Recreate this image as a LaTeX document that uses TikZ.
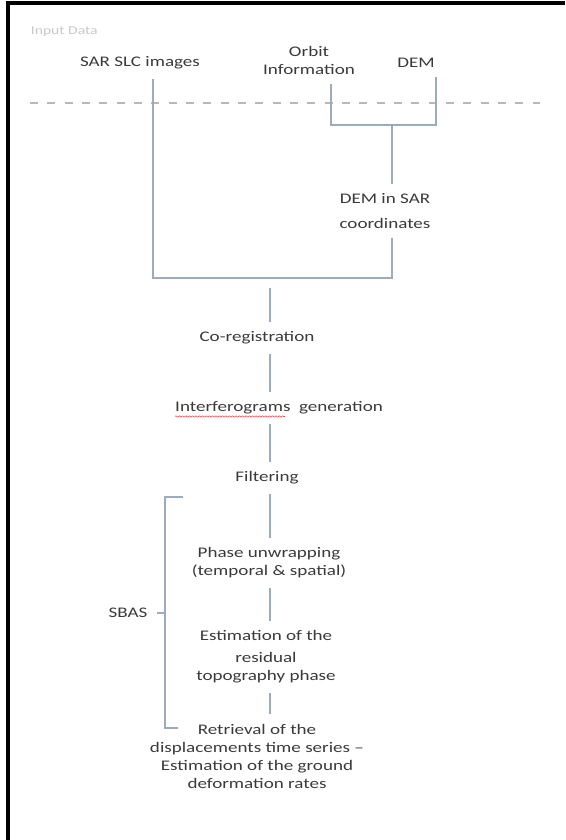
\documentclass[tikz,border=0pt]{standalone}
\usepackage{fontspec}
\setmainfont{Carlito}[FakeStretch=1.3]
\usetikzlibrary{decorations.pathmorphing}
\definecolor{txtgrey}{HTML}{3A3A3A}
\definecolor{inputgrey}{HTML}{C8C8C8}
\definecolor{linkblue}{HTML}{9DABBE}
\definecolor{dashgrey}{HTML}{B8B8B8}
\begin{document}
\begin{tikzpicture}[x=0.75pt,y=-0.75pt,
        lbl/.style={text=txtgrey,font=\fontsize{11}{13.5}\selectfont,align=center,inner xsep=2pt,inner ysep=7pt},
        conn/.style={linkblue,line width=0.9pt}]
        \useasboundingbox (0,0) rectangle (565,840);

        % frame
        \fill[black] (6,1) rectangle (10,840);
        \fill[black] (6,1) rectangle (565,5);

        % input data
        \node[lbl,text=inputgrey,font=\fontsize{9}{11}\selectfont,anchor=west] (input) at (28,32) {Input Data};
        \node[lbl] (sar) at (140,63) {SAR SLC images};
        \node[lbl] (orbit) at (309,60) {Orbit\\Information};
        \node[lbl] (dem) at (416,63) {DEM};
        \draw[dashgrey,line width=1pt,dash pattern=on 6pt off 7pt] (30,103) -- (540,103);

        \coordinate (oj) at (331,125);
        \coordinate (dj) at (436,125);
        \coordinate (mj) at (392,125);
        \coordinate (lj) at (153,278);
        \coordinate (rj) at (392,278);
        \node[lbl] (demsar) at (385,211) {DEM in SAR\\[5pt]coordinates};

        \draw[conn] (orbit.south -| oj) -- (oj) -- (dj) -- (dem.south -| dj);
        \draw[conn] (mj) -- (demsar.north -| mj);
        \draw[conn] (sar.south -| lj) -- (lj) -- (rj) -- (demsar.south -| rj);

        % processing chain
        \node[lbl] (coreg) at (257,338) {Co-registration};
        \node[lbl] (intf) at (279,408) {Interferograms\ \ generation};
        \node[lbl] (filt) at (267,478) {Filtering};
        \node[lbl] (unwrap) at (269,563) {Phase unwrapping\\(temporal \& spatial)};
        \node[lbl] (resid) at (266,657) {Estimation of the\\[3pt]residual\\topography phase};
        \node[lbl] (retr) at (257,756) {Retrieval of the\\displacements time series --\\Estimation of the ground\\deformation rates};

        \coordinate (cx) at (270,288);
        \draw[conn] (cx) -- (coreg.north -| cx);
        \foreach \a/\b in {coreg/intf,intf/filt,filt/unwrap,unwrap/resid,resid/retr}
            \draw[conn] (\a.south -| cx) -- (\b.north -| cx);

        % spell-check underline
        \draw[red!75,line width=0.4pt,decorate,decoration={snake,amplitude=0.5pt,segment length=2.5pt}]
            ([xshift=2pt,yshift=-3.5pt]intf.base west) -- ++(110,0);

        % SBAS bracket
        \node[lbl] (sbas) at (128,613) {SBAS};
        \coordinate (bt) at (165,497);
        \coordinate (bb) at (165,728);
        \draw[conn] (bt) ++(18,0) -- (bt) -- (bb) -- ++(13,0);
        \draw[conn] (sbas.east -| bt) -- ++(-8,0);
    \end{tikzpicture}
\end{document}
